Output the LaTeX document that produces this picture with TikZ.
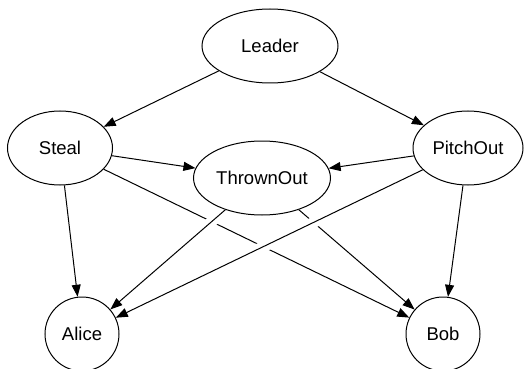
\documentclass[tikz,border=0pt]{standalone}
\usepackage{fontspec}
\setmainfont{Liberation Sans}
\usetikzlibrary{shapes.geometric,arrows.meta}
\begin{document}
\begin{tikzpicture}[x=1pt,y=-1pt,
  state/.style={ellipse,draw,line width=1pt,inner sep=0pt,font=\fontsize{18.5}{20}\selectfont},
  link/.style={line width=1pt,-{Triangle[length=12pt,width=9pt]}},
  over/.style={link,preaction={draw=white,line width=11pt,-,shorten <=14pt,shorten >=20pt}}]
\clip (0,0) rectangle (525,369);
\node[state,minimum width=136pt,minimum height=74pt] (leader) at (270,46) {Leader};
\node[state,minimum width=105pt,minimum height=74pt] (steal) at (60,148) {Steal};
\node[state,minimum width=137pt,minimum height=74pt] (thrown) at (262,178) {ThrownOut};
\node[state,minimum width=110pt,minimum height=74pt] (pitch) at (468,148) {PitchOut};
\node[state,minimum width=74pt,minimum height=74pt] (alice) at (82,334) {Alice};
\node[state,minimum width=74pt,minimum height=74pt] (bob) at (443,334) {Bob};
% lines that are crossed over
\draw[link] (steal) -- (bob);
\draw[link] (thrown) -- (bob);
\draw[link] (leader) -- (steal);
\draw[link] (leader) -- (pitch);
\draw[link] (steal) -- (thrown);
\draw[link] (pitch) -- (thrown);
\draw[link] (steal) -- (alice);
\draw[link] (pitch) -- (bob);
% lines drawn on top, leaving a gap in the lines beneath
\draw[over] (thrown) -- (alice);
\draw[over] (pitch) -- (alice);
\end{tikzpicture}
\end{document}
